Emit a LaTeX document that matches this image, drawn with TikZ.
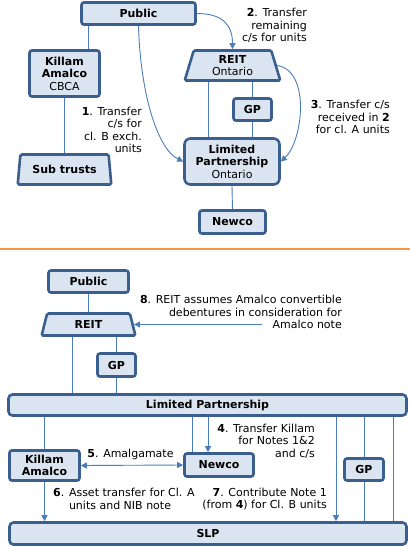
\documentclass[tikz,border=0pt]{standalone}
\usepackage{fontspec}
\setmainfont{DejaVu Sans}
\usetikzlibrary{shapes.geometric,arrows.meta}
\definecolor{boxfill}{HTML}{DBE5F1}
\definecolor{boxline}{HTML}{3A5F8E}
\definecolor{connc}{HTML}{4A7EBB}
\definecolor{sepc}{HTML}{F79646}
\begin{document}
\begin{tikzpicture}[x=1pt,y=-1pt,
  font=\fontsize{11}{12.5}\selectfont,
  box/.style={draw=boxline,fill=boxfill,line width=2.6pt,rounded corners=2.5pt,align=center,inner sep=0pt},
  trap/.style={box,trapezium,trapezium stretches=true,trapezium angle=77,rounded corners=1.5pt},
  cline/.style={draw=connc,line width=0.9pt},
  arr/.style={cline,-{Triangle[length=6pt,width=6pt]}},
  darr/.style={cline,{Triangle[length=6pt,width=6pt]}-{Triangle[length=6pt,width=6pt]}},
  lbl/.style={inner sep=0pt}]
\useasboundingbox[fill=white] (0,0) rectangle (410,547);

% ---------- top part ----------
\node[box,minimum width=114pt,minimum height=22pt] (pub1) at (138.5,13.5) {\textbf{Public}};
\node[box,minimum width=70pt,minimum height=46pt] (killam1) at (64.5,73.5) {\textbf{Killam}\\\textbf{Amalco}\\CBCA};
\node[trap,minimum width=94pt,minimum height=30pt] (sub) at (64.5,169.5) {\textbf{Sub trusts}};
\node[trap,minimum width=96pt,minimum height=30pt] (reit1) at (232.5,65.5) {\textbf{REIT}\\Ontario};
\node[box,minimum width=38pt,minimum height=22pt] (gp1) at (252.5,109.5) {\textbf{GP}};
\node[box,rounded corners=6pt,minimum width=95pt,minimum height=46pt] (lp1) at (232,161.5) {\textbf{Limited}\\\textbf{Partnership}\\Ontario};
\node[box,minimum width=66pt,minimum height=23pt] (newco1) at (232.5,222) {\textbf{Newco}};

\draw[cline] (pub1.south -| 88,0) -- (killam1.north -| 88,0);
\draw[cline] (killam1.south) -- (sub.north);
\draw[arr] (pub1.south) .. controls +(2,70) and +(-25,-12) .. (lp1.west);
\draw[arr] (pub1.east) .. controls +(25,0) and +(0,-25) .. (reit1.north);
\draw[cline] (reit1.south -| 208,0) -- (lp1.north -| 208,0);
\draw[cline] (reit1.south -| gp1.north) -- (gp1.north);
\draw[cline] (gp1.south) -- (gp1.south |- lp1.north);
\draw[cline] (lp1.south) -- (newco1.north);
\draw[arr] (reit1.east) .. controls +(34,5) and +(22,-20) .. (lp1.east);

\node[lbl,align=right,anchor=east] (l1) at (142,130) {\textbf{1}. Transfer\\c/s for\\cl. B exch.\\units};
\node[lbl,align=right,anchor=east] (l2) at (307,25.5) {\textbf{2}. Transfer\\remaining\\c/s for units};
\node[lbl,align=right,anchor=east] (l3) at (390,117) {\textbf{3}. Transfer c/s\\received in \textbf{2}\\for cl. A units};

% separator
\draw[sepc,line width=2.7pt] (0,249) -- (410,249);

% ---------- bottom part ----------
\node[box,minimum width=80pt,minimum height=22pt] (pub2) at (88.5,281.5) {\textbf{Public}};
\node[trap,minimum width=94pt,minimum height=22pt] (reit2) at (88.5,324.5) {\textbf{REIT}};
\node[box,minimum width=38pt,minimum height=23pt] (gp2) at (116.5,365) {\textbf{GP}};
\node[box,rounded corners=4pt,minimum width=398pt,minimum height=21pt] (lp2) at (207.5,405) {\textbf{Limited Partnership}};
\node[box,minimum width=70pt,minimum height=30pt] (killam2) at (44.5,465.5) {\textbf{Killam}\\\textbf{Amalco}};
\node[box,minimum width=69pt,minimum height=23pt] (newco2) at (219,465) {\textbf{Newco}};
\node[box,minimum width=39pt,minimum height=22pt] (gp3) at (364,469.5) {\textbf{GP}};
\node[box,rounded corners=4pt,minimum width=397pt,minimum height=22pt] (slp) at (208,533.5) {\textbf{SLP}};

\coordinate (c8) at (262,324.5);

\draw[cline] (pub2.south) -- (reit2.north);
\draw[cline] (reit2.south -| 72,0) -- (lp2.north -| 72,0);
\draw[cline] (reit2.south -| gp2.north) -- (gp2.north);
\draw[cline] (gp2.south) -- (gp2.south |- lp2.north);
\draw[arr] (c8) -- (reit2.east);
\draw[cline] (lp2.south -| killam2.north) -- (killam2.north);
\draw[cline] (lp2.south -| 192,0) -- (newco2.north -| 192,0);
\draw[arr] (lp2.south -| 208,0) -- (newco2.north -| 208,0);
\draw[darr] (killam2.east) -- (newco2.west);
\draw[arr] (killam2.south) -- (killam2.south |- slp.north);
\draw[arr] (lp2.south -| 336,0) -- (slp.north -| 336,0);
\draw[cline] (lp2.south -| gp3.north) -- (gp3.north);
\draw[cline] (gp3.south) -- (gp3.south |- slp.north);
\draw[cline] (lp2.south -| 393,0) -- (slp.north -| 393,0);

\node[lbl,align=right,anchor=east] (l8) at (342,312) {\textbf{8}. REIT assumes Amalco convertible\\debentures in consideration for\\Amalco note};
\node[lbl,align=right,anchor=east] (l4) at (315,441) {\textbf{4}. Transfer Killam\\for Notes 1\&2\\and c/s};
\node[lbl] (l5) at (130.5,454) {\textbf{5}. Amalgamate};
\node[lbl,align=left,anchor=west] (l6) at (53,499) {\textbf{6}. Asset transfer for Cl. A\\\phantom{\textbf{6}. }units and NIB note};
\node[lbl,align=right,anchor=east] (l7) at (327,499) {\textbf{7}. Contribute Note 1\\(from \textbf{4}) for Cl. B units};
\end{tikzpicture}
\end{document}
